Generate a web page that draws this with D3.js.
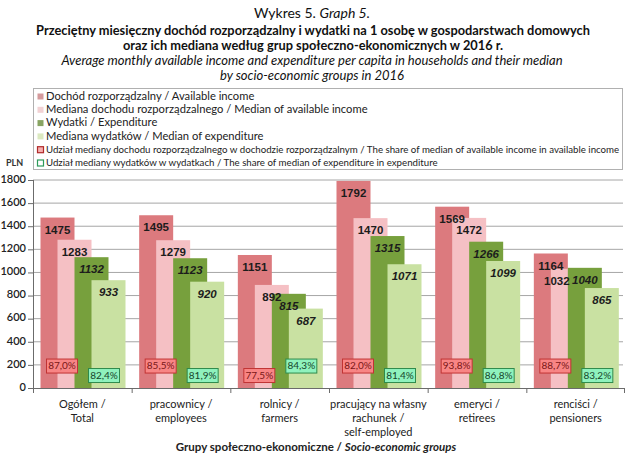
<!DOCTYPE html>
<html>
<head>
<meta charset="utf-8">
<script src="https://cdn.jsdelivr.net/npm/d3@7"></script>
<style>
  body { margin: 0; background: #fff; }
  svg { display: block; font-family: Lato, "Open Sans", sans-serif; }
</style>
</head>
<body>
<svg id="chart" width="625" height="458"></svg>
<script>
const groups = [
  ["Ogółem /", "Total"],
  ["pracownicy /", "employees"],
  ["rolnicy /", "farmers"],
  ["pracujący na własny", "rachunek /", "self-employed"],
  ["emeryci /", "retirees"],
  ["renciści /", "pensioners"]
];
const income = [1475, 1495, 1151, 1792, 1569, 1164];
const incomeMedian = [1283, 1279, 892, 1470, 1472, 1032];
const expenditure = [1132, 1123, 815, 1315, 1266, 1040];
const expenditureMedian = [933, 920, 687, 1071, 1099, 865];
const incomeShare = [87.0, 85.5, 77.5, 82.0, 93.8, 88.7];
const expenditureShare = [82.4, 81.9, 84.3, 81.4, 86.8, 83.2];
const yTicks = [0, 200, 400, 600, 800, 1000, 1200, 1400, 1600, 1800];

const legendItems = [
  "Dochód rozporządzalny / Available income",
  "Mediana dochodu rozporządzalnego / Median of available income",
  "Wydatki / Expenditure",
  "Mediana wydatków / Median of expenditure",
  "Udział mediany dochodu rozporządzalnego w dochodzie rozporządzalnym / The share of median of available income in available income",
  "Udział mediany wydatków w wydatkach / The share of median of expenditure in expenditure"
];

const series = [
  { values: income, color: "#dc7a7e", italic: false },
  { values: incomeMedian, color: "#f5c0c4", italic: false },
  { values: expenditure, color: "#77a03d", italic: true },
  { values: expenditureMedian, color: "#c9e1a2", italic: true }
];

const svg = d3.select("#chart");

// titles
const titles = svg.append("g").attr("text-anchor", "middle").attr("fill", "#111");
const t1 = titles.append("text").attr("x", 312).attr("y", 18).attr("font-size", 14);
t1.append("tspan").text("Wykres 5. ");
t1.append("tspan").attr("font-style", "italic").text("Graph 5.");
titles.append("text").attr("x", 313).attr("y", 35).attr("font-size", 12.8).attr("font-weight", "bold")
  .text("Przeciętny miesięczny dochód rozporządzalny i wydatki na 1 osobę w gospodarstwach domowych");
titles.append("text").attr("x", 313).attr("y", 50).attr("font-size", 12.8).attr("font-weight", "bold")
  .text("oraz ich mediana według grup społeczno-ekonomicznych w 2016 r.");
titles.append("text").attr("x", 312).attr("y", 65).attr("font-size", 13).attr("font-style", "italic")
  .text("Average monthly available income and expenditure per capita in households and their median");
titles.append("text").attr("x", 312).attr("y", 80).attr("font-size", 13).attr("font-style", "italic")
  .text("by socio-economic groups in 2016");

// scales
const plotLeft = 33, plotRight = 625, plotTop = 180, plotBottom = 388;
const x0 = d3.scaleBand().domain(d3.range(groups.length)).range([plotLeft, plotRight]);
const barW = 34;
const xi = d3.scaleLinear().domain([0, 1]).range([7.5, 7.5 + barW / 2]);
const y = d3.scaleLinear().domain([0, 1800]).range([plotBottom, plotTop]);

// gridlines
svg.append("g")
  .selectAll("line")
  .data(yTicks.slice(1))
  .enter()
  .append("line")
  .attr("x1", plotLeft).attr("x2", plotRight - 2)
  .attr("y1", d => y(d)).attr("y2", d => y(d))
  .attr("stroke", "#a6a6a6").attr("stroke-width", 1);

// legend
const legend = svg.append("g");
legend.append("rect")
  .attr("x", 33.5).attr("y", 88.5).attr("width", 589).attr("height", 81)
  .attr("fill", "#fff").attr("stroke", "#b0b0b0");
const swatchFill = ["#d49a9c", "#f2d2d4", "#88a462", "#dbe9c0", "#f6b0b0", "#ffffff"];
const swatchStroke = [null, null, null, null, "#b02a2a", "#2e9a5a"];
legendItems.forEach(function (label, i) {
  const ly = 97 + i * 13.3;
  legend.append("rect")
    .attr("x", 37.5).attr("y", ly - 3.5).attr("width", 6).attr("height", 6)
    .attr("fill", swatchFill[i])
    .attr("stroke", swatchStroke[i] || "none")
    .attr("stroke-width", 1.2);
  legend.append("text")
    .attr("x", 46).attr("y", ly)
    .attr("dominant-baseline", "middle")
    .attr("font-size", i < 4 ? 11.2 : 9.7)
    .attr("fill", "#222")
    .text(label);
});

// bars
series.forEach(function (s, si) {
  svg.append("g")
    .selectAll("rect")
    .data(s.values)
    .enter()
    .append("rect")
    .attr("x", (d, i) => x0(i) + xi(si))
    .attr("y", d => y(d))
    .attr("width", barW)
    .attr("height", d => y(0) - y(d))
    .attr("fill", s.color);
});

// bar value labels; a label is nudged left when the next series' label sits at nearly the same height
series.forEach(function (s, si) {
  const next = series[si + 1];
  svg.append("g")
    .selectAll("text")
    .data(s.values)
    .enter()
    .append("text")
    .attr("x", function (d, i) {
      let cx = x0(i) + xi(si) + barW / 2;
      if (next && Math.abs(y(d) - y(next.values[i])) < 6) cx -= 11;
      return cx;
    })
    .attr("y", d => y(d) + 13)
    .attr("dominant-baseline", "middle")
    .attr("text-anchor", "middle")
    .attr("font-family", "'Liberation Sans', sans-serif")
    .attr("font-size", 11.5)
    .attr("font-weight", "bold")
    .attr("font-style", s.italic ? "italic" : "normal")
    .attr("fill", "#1c1c1c")
    .text(d => d);
});

// share boxes: the higher share sits in the upper slot
const upperVal = 190, lowerVal = 108;
function shareBoxes(values, others, cxOffset, fill, stroke, textColor) {
  const g = svg.append("g");
  values.forEach(function (v, i) {
    const cy = y(v >= others[i] ? upperVal : lowerVal);
    const cx = x0(i) + cxOffset;
    g.append("rect")
      .attr("x", cx - 15.5).attr("y", cy - 7)
      .attr("width", 31).attr("height", 14)
      .attr("fill", fill).attr("stroke", stroke).attr("stroke-width", 1);
    g.append("text")
      .attr("x", cx).attr("y", cy + 0.5)
      .attr("dominant-baseline", "middle")
      .attr("text-anchor", "middle")
      .attr("font-size", 10)
      .attr("fill", textColor)
      .text(v.toFixed(1).replace(".", ",") + "%");
  });
}
shareBoxes(incomeShare, expenditureShare, 29, "#f88585", "#c03434", "#7a1616");
shareBoxes(expenditureShare, incomeShare, 71, "#8ff2bd", "#2f8a4c", "#16452a");

// axes
const axisColor = "#6b6b6b";
svg.append("line")
  .attr("x1", plotLeft + 0.5).attr("x2", plotLeft + 0.5)
  .attr("y1", plotTop).attr("y2", plotBottom)
  .attr("stroke", axisColor);
svg.append("line")
  .attr("x1", plotLeft).attr("x2", plotRight)
  .attr("y1", plotBottom + 0.5).attr("y2", plotBottom + 0.5)
  .attr("stroke", axisColor);

const yAxis = svg.append("g");
yTicks.forEach(function (t) {
  yAxis.append("line")
    .attr("x1", plotLeft - 5).attr("x2", plotLeft)
    .attr("y1", y(t) + 0.5).attr("y2", y(t) + 0.5)
    .attr("stroke", axisColor);
  yAxis.append("text")
    .attr("x", 26).attr("y", y(t))
    .attr("dominant-baseline", "middle")
    .attr("text-anchor", "end")
    .attr("font-size", 11)
    .attr("font-weight", "600")
    .attr("fill", "#222")
    .text(t);
});

svg.append("text")
  .attr("x", 6).attr("y", 166)
  .attr("font-size", 9).attr("font-weight", "bold").attr("fill", "#333")
  .text("PLN");

// x ticks at group boundaries
const xTickPos = d3.range(groups.length + 1).map(i => plotLeft + i * x0.bandwidth());
svg.append("g")
  .selectAll("line")
  .data(xTickPos)
  .enter()
  .append("line")
  .attr("x1", d => Math.min(d, plotRight - 1) + 0.5).attr("x2", d => Math.min(d, plotRight - 1) + 0.5)
  .attr("y1", plotBottom).attr("y2", plotBottom + 5)
  .attr("stroke", axisColor);

// category labels
groups.forEach(function (lines, i) {
  const text = svg.append("text")
    .attr("text-anchor", "middle")
    .attr("font-size", 11)
    .attr("fill", "#222");
  lines.forEach(function (line, li) {
    text.append("tspan")
      .attr("x", x0(i) + x0.bandwidth() / 2)
      .attr("y", 408 + li * 14)
      .text(line);
  });
});

// x axis title
const xt = svg.append("text")
  .attr("x", 316).attr("y", 451)
  .attr("text-anchor", "middle")
  .attr("font-size", 11.5)
  .attr("font-weight", "bold")
  .attr("fill", "#222");
xt.append("tspan").text("Grupy społeczno-ekonomiczne / ");
xt.append("tspan").attr("font-style", "italic").text("Socio-economic groups");
</script>
</body>
</html>
